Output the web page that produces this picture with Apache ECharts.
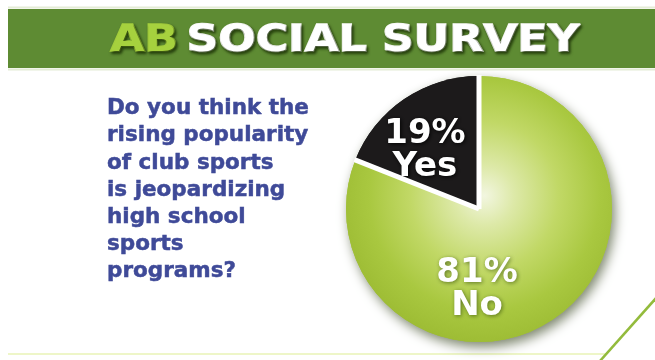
<!DOCTYPE html>
<html><head><meta charset="utf-8">
<script src="https://cdn.jsdelivr.net/npm/echarts@6/dist/echarts.min.js"></script>
<style>html,body{margin:0;padding:0;background:#fff}#c{width:655px;height:360px}</style>
</head><body><div id="c"></div>
<script>
// ---- data ----
const categories = ['No', 'Yes'];
const values = [81, 19];
const titleLead = 'AB';
const titleRest = 'SOCIAL SURVEY';
const questionLines = ['Do you think the', 'rising popularity', 'of club sports', 'is jeopardizing', 'high school', 'sports', 'programs?'];

// ---- layout / styles ----
const PIE_CENTER = [479, 209];
const PIE_R = 133;
const greenFill = {
  type: 'radial', x: 0.52, y: 0.45, r: 0.62,
  colorStops: [
    { offset: 0, color: '#f2f6e0' },
    { offset: 0.18, color: '#dde9a8' },
    { offset: 0.45, color: '#c1d866' },
    { offset: 0.7, color: '#a9c840' },
    { offset: 0.9, color: '#9dbc34' },
    { offset: 1, color: '#8fad2b' }
  ]
};
const sliceColors = [greenFill, '#1c1a1b'];
const labelOffsets = [{ dx: -41, dy: 23 }, { dx: -15, dy: -1 }];
const labelShadows = ['rgba(70,95,20,0.8)', 'rgba(0,0,0,0.9)'];
const total = values.reduce((a, b) => a + b, 0);

const pieData = (withLabels) => categories.map((c, i) => ({
  name: c, value: values[i],
  itemStyle: { color: sliceColors[i] },
  label: withLabels ? { textShadowColor: labelShadows[i], textShadowBlur: 4, textShadowOffsetX: 1, textShadowOffsetY: 1.5 } : { show: false }
}));

const titleStyle = (col) => ({
  fontFamily: 'DejaVu Sans', fontWeight: 'bold', fontSize: 37, fill: col,
  stroke: col, lineWidth: 1.6,
  textShadowColor: 'rgba(20,40,0,0.8)', textShadowBlur: 3, textShadowOffsetX: 1.5, textShadowOffsetY: 2
});

const chart = echarts.init(document.getElementById('c'), null, { renderer: 'canvas' });
chart.setOption({
  backgroundColor: '#ffffff',
  animation: false,
  graphic: [
    { type: 'line', shape: { x1: 8, y1: 7.5, x2: 655, y2: 7.5 }, style: { stroke: '#e4ecd6', lineWidth: 2 }, silent: true },
    { type: 'rect', shape: { x: 8, y: 9, width: 647, height: 59 }, style: { fill: '#5e8b33' }, silent: true },
    { type: 'line', shape: { x1: 8, y1: 69.5, x2: 655, y2: 69.5 }, style: { stroke: '#e4ecd6', lineWidth: 2 }, silent: true },
    {
      type: 'text', x: 345, y: 41, scaleX: 1.19, z: 10, silent: true,
      style: {
        text: '{a|' + titleLead + '} {b|' + titleRest + '}',
        align: 'center', verticalAlign: 'middle',
        rich: {
          a: Object.assign(titleStyle('#a6d13e'), { padding: [0, 4, 0, 0] }),
          b: titleStyle('#ffffff')
        }
      }
    },
    {
      type: 'text', x: 107, y: 95, silent: true,
      style: {
        text: questionLines.join('\n'),
        fontFamily: 'DejaVu Sans', fontWeight: 'bold', fontSize: 21.5, lineHeight: 27.2,
        fill: '#3f4a98', stroke: '#3f4a98', lineWidth: 0.5, align: 'left', verticalAlign: 'top'
      }
    },
    { type: 'line', shape: { x1: 8, y1: 354, x2: 606, y2: 354 }, style: { stroke: '#eef6c8', lineWidth: 2 }, silent: true },
    { type: 'line', shape: { x1: 600, y1: 361, x2: 657, y2: 297 }, style: { stroke: '#93bb3c', lineWidth: 2.5 }, silent: true }
  ],
  series: [
    { // shadow layer
      type: 'pie', z: 1, center: PIE_CENTER, radius: PIE_R, startAngle: 90, clockwise: true, silent: true,
      itemStyle: { shadowBlur: 12, shadowColor: 'rgba(40,55,15,0.6)', shadowOffsetX: 3, shadowOffsetY: 5 },
      label: { show: false }, labelLine: { show: false },
      data: pieData(false)
    },
    { // main pie
      type: 'pie', z: 2, center: PIE_CENTER, radius: PIE_R, startAngle: 90, clockwise: true, silent: true,
      labelLine: { show: false },
      label: {
        show: true, position: 'inside',
        formatter: p => p.value + '%\n' + p.name,
        color: '#ffffff', fontFamily: 'DejaVu Sans', fontWeight: 'bold', fontSize: 34, lineHeight: 33,
        align: 'center'
      },
      labelLayout: p => labelOffsets[p.dataIndex],
      data: pieData(true)
    },
    { // white seams between slices, computed from the data
      type: 'custom', z: 3, coordinateSystem: 'none', silent: true,
      data: values.map(v => [v]),
      renderItem: (params, api) => {
        let cum = 0;
        for (let k = 0; k < params.dataIndex; k++) cum += values[k];
        const ang = (90 - 360 * cum / total) * Math.PI / 180;
        const [cx, cy] = PIE_CENTER;
        return {
          type: 'line',
          shape: { x1: cx, y1: cy, x2: cx + (PIE_R + 1) * Math.cos(ang), y2: cy - (PIE_R + 1) * Math.sin(ang) },
          style: { stroke: '#ffffff', lineWidth: 5, lineCap: 'butt' }
        };
      }
    }
  ]
});
</script></body></html>
